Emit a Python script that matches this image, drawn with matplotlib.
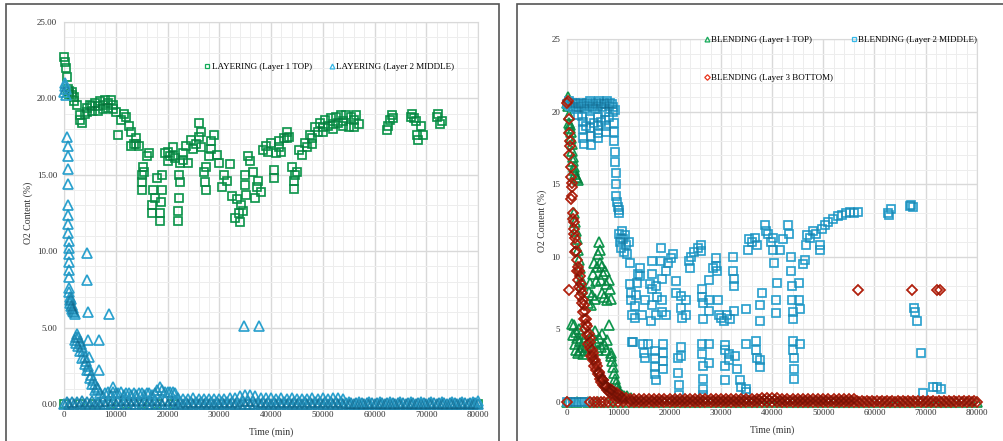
import matplotlib.pyplot as plt
from matplotlib.lines import Line2D
from matplotlib.patches import Rectangle

# ---------------- data (time in min, O2 in %) ----------------
# LAYERING, layer 1 TOP (squares)
layering_top = [
    (0, 22.7), (200, 22.4), (400, 22.0), (600, 21.4), (800, 20.6), (1000, 20.3), (1500, 20.2),
    (2000, 20.1), (2500, 19.6), (3000, 18.6), (3500, 18.4), (4000, 19.0), (4500, 19.4), (5000, 19.6),
    (5500, 19.2), (6000, 19.7), (6500, 19.5), (7000, 19.8), (7500, 19.6), (8000, 19.9), (8500, 19.7),
    (9000, 19.9), (9500, 19.6), (10000, 19.1), (10500, 17.6), (11000, 18.6), (11500, 19.0),
    (12000, 18.8), (12500, 18.2), (13000, 17.8), (13500, 17.0), (14000, 17.4), (14500, 16.9),
    (15000, 14.0), (15500, 15.2), (16000, 16.2), (16500, 16.4), (17000, 12.5), (17500, 13.5),
    (18000, 14.8), (18500, 12.0), (19000, 14.0), (19500, 16.4), (20000, 15.9), (20500, 16.2),
    (21000, 16.8), (21500, 16.1), (22000, 12.0), (22500, 14.5), (23000, 16.0), (23500, 16.9),
    (24000, 15.8), (24500, 17.3), (25000, 16.7), (25500, 17.0), (26000, 18.4), (26500, 16.8),
    (27000, 15.2), (27500, 14.0), (28000, 16.2), (28500, 17.2), (29000, 17.6), (29500, 16.3),
    (30000, 15.8), (30500, 14.2), (31000, 15.0), (31500, 14.6), (32000, 15.7), (32500, 13.6),
    (33000, 12.2), (33500, 13.4), (34000, 11.9), (34500, 12.6), (35000, 14.3), (35500, 16.2),
    (36000, 15.9), (36500, 15.2), (37000, 13.5), (37500, 14.6), (38000, 13.9), (38500, 16.6),
    (39000, 16.9), (39500, 16.5), (40000, 17.1), (40500, 14.8), (41000, 16.4), (41500, 17.2),
    (42000, 16.5), (42500, 17.4), (43000, 17.8), (43500, 17.5), (44000, 15.5), (44500, 14.1),
    (45000, 15.2), (45500, 16.6), (46000, 16.3), (46500, 17.1), (47000, 16.8), (47500, 17.6),
    (48000, 17.4), (48500, 18.1), (49000, 17.8), (49500, 18.4), (50000, 18.1), (50500, 18.6),
    (51000, 18.2), (51500, 18.7), (52000, 18.3), (52500, 18.8), (53000, 18.4), (53500, 18.9),
    (54000, 18.5), (54500, 18.9), (55000, 18.1), (55500, 18.8), (56000, 18.6), (56500, 18.9),
    (57000, 18.3),
    (15000, 14.5), (15000, 15.0), (15200, 15.5), (17000, 13.0), (17200, 14.0), (18500, 12.5),
    (18700, 13.2), (19000, 15.0), (22000, 12.6), (22200, 13.5), (22300, 15.0), (22500, 15.8),
    (27300, 14.5), (27500, 15.5), (33800, 12.5), (34200, 13.0), (35000, 15.0), (35200, 13.7),
    (37200, 14.2), (40500, 15.3), (44500, 14.6), (44700, 15.0), (1000, 20.5), (1500, 20.4),
    (2000, 19.8), (3000, 18.9), (4500, 19.1), (5500, 19.5), (6500, 19.2), (7500, 19.3),
    (8500, 19.4), (9500, 19.3), (13000, 16.9), (14000, 17.0), (20000, 16.5), (21000, 16.2),
    (23000, 16.4), (26000, 17.5), (26500, 17.8), (28500, 16.7), (41500, 16.8), (43000, 17.4),
    (48000, 17.0), (50000, 17.8), (52000, 18.0), (54000, 18.2), (56000, 18.1),
    (62500, 17.9), (62600, 18.2), (63000, 18.6), (63300, 18.9), (63500, 18.7),
    (67000, 18.8), (67300, 19.0), (67600, 18.7), (68000, 18.5), (68200, 17.6), (68400, 17.3),
    (69000, 18.2), (69400, 17.6), (72000, 18.8), (72300, 19.0), (72600, 18.3), (73000, 18.5),
    (0, 0.0), (3000, 0.0), (6000, 0.0), (9000, 0.0), (12000, 0.0), (15000, 0.0), (18000, 0.0),
    (21000, 0.0), (80000, 0.0),
]

# LAYERING, layer 2 MIDDLE (triangles)
layering_middle = [
    (0, 20.4), (100, 20.8), (200, 21.0), (300, 20.6), (400, 20.2),
    (650, 17.5), (700, 16.9), (720, 16.2), (750, 15.4), (780, 14.4), (800, 13.0), (820, 12.4),
    (840, 11.8), (860, 11.2), (880, 10.7), (900, 10.2), (920, 9.8), (940, 9.3), (960, 8.8),
    (980, 8.3), (1000, 7.6), (1050, 7.3), (1100, 7.0), (1150, 6.8), (1200, 6.6), (1300, 6.9),
    (1400, 6.4), (1500, 6.2), (1600, 6.5), (1700, 6.1), (1800, 6.3), (2000, 6.0), (2100, 5.9),
    (4500, 9.9), (4500, 8.1), (4600, 6.0), (4650, 4.2), (4800, 3.1), (6700, 4.2), (6700, 2.2),
    (8700, 5.9), (9500, 1.1), (34800, 5.1), (37600, 5.1),
    (2100, 4.2), (2300, 4.4), (2600, 4.6), (2800, 4.4), (3000, 4.1), (3200, 3.9), (3400, 3.7),
    (3700, 3.5), (4000, 3.1), (4300, 2.8), (4600, 2.5), (4900, 2.2), (5200, 1.9), (5600, 1.6),
    (6000, 1.3), (6300, 1.1), (6600, 1.0), (7000, 0.7), (7500, 0.5),
    (2400, 4.0), (2700, 3.8), (3000, 3.5), (3500, 3.0), (4000, 2.6), (4400, 2.2), (5000, 1.7),
    (5500, 1.3), (6000, 0.9),
    (8000, 0.7), (8500, 0.8), (9000, 0.6), (9500, 0.8), (10000, 0.7), (10500, 0.7), (11000, 0.8),
    (11500, 0.6), (12000, 0.7), (12500, 0.7), (13000, 0.6), (13500, 0.7), (14000, 0.6),
    (14500, 0.7), (15000, 0.7), (15500, 0.6), (16000, 0.7), (16500, 0.7), (17000, 0.6),
    (17500, 0.7), (18000, 0.9), (18500, 1.1), (19000, 0.9), (19500, 0.8), (20000, 0.8),
    (20500, 0.8), (21000, 0.8), (21500, 0.7),
    (22000, 0.4), (23000, 0.3), (24000, 0.3), (25000, 0.4), (26000, 0.3), (27000, 0.3),
    (28000, 0.3), (29000, 0.3), (30000, 0.3), (31000, 0.3), (32000, 0.4), (33000, 0.4),
    (34000, 0.5), (35000, 0.6), (36000, 0.6), (37000, 0.5), (38000, 0.4), (39000, 0.4),
    (40000, 0.4), (41000, 0.3), (42000, 0.4), (43000, 0.3), (44000, 0.4), (45000, 0.3),
    (46000, 0.3), (47000, 0.3), (48000, 0.4), (49000, 0.3), (50000, 0.4), (51000, 0.3),
    (52000, 0.4), (53000, 0.4), (54000, 0.3),
    (55000, 0.1), (57000, 0.1), (59000, 0.1), (61000, 0.1), (63000, 0.1), (65000, 0.1),
    (67000, 0.1), (69000, 0.1), (71000, 0.1), (73000, 0.1), (75000, 0.1), (77000, 0.1),
    (79000, 0.1), (80000, 0.2),
]
layering_middle_zero_t = [
    0, 1000, 2000, 3000, 4000, 5000, 6000, 7000, 8000, 9000, 10000, 11000, 12000, 13000, 14000,
    15000, 16000, 17000, 18000, 19000, 20000, 21000, 22000, 23000, 24000, 25000, 26000, 27000,
    28000, 29000, 30000, 31000, 32000, 33000, 34000, 35000, 36000, 37000, 38000, 39000, 40000,
    41000, 42000, 43000, 44000, 45000, 46000, 47000, 48000, 49000, 50000, 51000, 52000, 53000,
    54000, 55000, 56000, 57000, 58000, 59000, 60000, 61000, 62000, 63000, 64000, 65000, 66000,
    67000, 68000, 69000, 70000, 71000, 72000, 73000, 74000, 75000, 76000, 77000, 78000, 79000,
    80000,
]
layering_middle_low = [
    (500, 0.15), (1500, 0.15), (2500, 0.15), (3500, 0.2), (4500, 0.15), (5500, 0.2), (6500, 0.15),
    (7500, 0.2), (8500, 0.2), (9500, 0.25), (10500, 0.2), (11500, 0.25), (12500, 0.2),
    (13500, 0.25), (14500, 0.2), (15500, 0.25), (16500, 0.2), (17500, 0.25), (18500, 0.2),
    (19500, 0.25), (20500, 0.2), (21500, 0.25), (22500, 0.15), (23500, 0.15), (24500, 0.15),
    (25500, 0.15), (26500, 0.15), (27500, 0.15), (28500, 0.15), (29500, 0.15), (30500, 0.15),
    (31500, 0.15), (32500, 0.15), (33500, 0.15), (34500, 0.2), (35500, 0.2), (36500, 0.2),
    (37500, 0.15), (38500, 0.15), (39500, 0.15), (40500, 0.15), (41500, 0.15), (42500, 0.15),
    (43500, 0.15), (44500, 0.15), (45500, 0.15), (46500, 0.15), (47500, 0.15), (48500, 0.15),
    (49500, 0.15), (50500, 0.15), (51500, 0.15), (52500, 0.15), (53500, 0.15), (54500, 0.05),
    (55500, 0.05), (56500, 0.05), (57500, 0.05), (58500, 0.05), (59500, 0.05), (60500, 0.05),
    (61500, 0.05), (62500, 0.05), (63500, 0.05), (64500, 0.05), (65500, 0.05), (66500, 0.05),
    (67500, 0.05), (68500, 0.05), (69500, 0.05), (70500, 0.05), (71500, 0.05), (72500, 0.05),
    (73500, 0.05), (74500, 0.05), (75500, 0.05), (76500, 0.05), (77500, 0.05), (78500, 0.05),
    (79500, 0.05),
]

# BLENDING, layer 1 TOP (triangles)
blending_top = [
    (0, 20.6), (100, 21.0), (200, 20.4), (300, 19.8), (400, 19.2), (500, 18.9), (600, 19.1),
    (700, 18.6), (800, 18.2), (900, 17.8), (1000, 17.3), (1100, 16.9), (1200, 16.6), (1300, 16.2),
    (1400, 16.0), (1500, 15.7), (1700, 15.5), (1900, 15.4), (2100, 15.3),
    (1300, 13.0), (1500, 12.4), (1700, 11.8), (1900, 11.2), (2100, 10.5), (2300, 9.8),
    (2500, 9.2), (2700, 8.5), (2900, 7.8),
    (1000, 5.4), (1200, 4.6), (1400, 5.3), (1500, 4.0), (1700, 4.8), (1800, 3.6), (2000, 4.4),
    (2100, 3.4), (2300, 5.0), (2500, 4.2), (2600, 3.5), (2800, 4.7), (3000, 3.8), (3200, 3.3),
    (3400, 4.3), (3600, 3.6), (3800, 3.9),
    (4100, 6.8), (4300, 7.6), (4500, 8.2), (4700, 6.7), (4900, 7.4), (5100, 8.8), (5300, 9.6),
    (5500, 7.1), (5700, 8.3), (5900, 9.3), (6100, 10.2), (6300, 11.0), (6400, 10.5), (6500, 9.6),
    (6700, 8.4), (6800, 7.5), (6900, 9.4), (7100, 8.8), (7300, 7.2), (7500, 9.0), (7700, 8.1),
    (7900, 7.0), (8100, 8.4), (8300, 7.8), (8500, 7.1),
    (4200, 4.2), (4500, 3.7), (4800, 4.6), (5100, 3.9), (5400, 4.9), (5700, 4.1), (6000, 3.6),
    (6300, 4.4), (6600, 3.8), (6900, 4.7), (7200, 4.0), (7600, 3.6), (7900, 4.3), (8200, 5.3),
    (8500, 3.4),
    (8600, 3.2), (8800, 2.8), (9000, 2.4), (9200, 2.0), (9400, 1.6), (9600, 1.3), (9800, 1.0),
    (10000, 0.8), (10300, 0.6), (10700, 0.5), (11200, 0.4), (11800, 0.4), (12500, 0.3),
    (0, 0.0), (2000, 0.0), (4000, 0.0), (6000, 0.0), (8000, 0.0), (10000, 0.0), (12000, 0.0),
    (14000, 0.0), (16000, 0.0), (18000, 0.0), (20000, 0.0), (22000, 0.0), (24000, 0.0),
    (26000, 0.0), (28000, 0.0), (30000, 0.0), (32000, 0.0), (34000, 0.0), (36000, 0.0),
    (38000, 0.0), (40000, 0.0), (42000, 0.0), (44000, 0.0), (46000, 0.0), (48000, 0.0),
    (50000, 0.0), (52000, 0.0), (54000, 0.0), (56000, 0.0), (58000, 0.0), (60000, 0.0),
    (62000, 0.0), (64000, 0.0), (66000, 0.0), (68000, 0.0), (70000, 0.0), (72000, 0.0),
    (74000, 0.0), (76000, 0.0), (78000, 0.0), (80000, 0.0),
]

# BLENDING, layer 2 MIDDLE (squares)
blending_middle = [
    (0, 20.5), (300, 20.7), (600, 20.4), (900, 20.6), (1200, 20.3), (1500, 20.6), (1800, 20.2),
    (2100, 20.5), (2400, 20.3), (2700, 20.6), (3000, 20.4), (3300, 20.5), (3600, 20.2),
    (3900, 20.6), (4200, 20.4), (4500, 20.7), (4800, 20.3), (5100, 20.5), (5400, 20.2),
    (5700, 20.6), (6000, 20.4), (6300, 20.7), (6600, 20.5), (6900, 20.3), (7200, 20.6),
    (7500, 20.5), (7800, 20.7), (8100, 20.4), (8400, 20.6), (8700, 20.5), (9000, 20.3),
    (9300, 20.1),
    (3000, 19.7), (3100, 19.3), (3100, 18.8), (3200, 18.2), (3300, 17.8), (4500, 19.5),
    (4500, 18.9), (4600, 18.3), (4600, 17.7), (6000, 19.6), (6000, 19.0), (6100, 18.5),
    (6100, 18.2), (7500, 20.0), (7500, 19.4), (7600, 19.0), (7600, 18.6), (9000, 20.0),
    (9100, 19.2), (9100, 18.6), (9200, 18.0), (2200, 19.8), (3800, 19.0), (5200, 19.2),
    (6700, 19.3), (8200, 19.6),
    (9300, 17.2), (9400, 16.5), (9500, 15.8), (9500, 15.0), (9600, 14.2), (9700, 13.8),
    (9900, 13.4), (10100, 13.0), (10200, 13.2),
    (10100, 11.6), (10300, 11.0), (10500, 11.3), (10600, 10.6), (10800, 11.8), (11000, 11.2),
    (11200, 10.3), (11400, 11.5), (11600, 10.8), (11800, 10.2), (12000, 11.0), (12200, 9.6),
    (12300, 8.1), (12400, 7.5), (12500, 7.0), (12600, 6.0), (13200, 5.8), (13300, 6.6),
    (13400, 7.4), (13600, 8.2), (13800, 8.8), (14200, 9.2), (14300, 8.7), (14600, 6.0),
    (15200, 7.0), (16200, 8.1), (16500, 9.7), (16500, 8.8), (16600, 7.8), (16600, 6.7),
    (16300, 5.6), (17300, 6.0), (17300, 8.0), (17600, 7.2), (18400, 10.6), (18400, 9.7),
    (18500, 8.5), (18500, 7.0), (18600, 6.2), (19400, 6.0), (19400, 9.0), (19800, 9.6),
    (20200, 9.9), (20700, 10.2), (21300, 8.3), (21300, 7.5), (22300, 7.3), (22300, 6.5),
    (22400, 5.8), (23300, 7.0), (23300, 6.0), (23900, 9.7), (24200, 10.0), (24000, 9.2),
    (24800, 10.3), (25500, 10.6), (26200, 10.8), (26200, 10.4), (26400, 7.8), (26400, 7.2),
    (26500, 6.8), (26500, 5.7), (27800, 7.0), (27800, 6.3), (27800, 8.4), (28500, 9.2),
    (29100, 9.9), (29100, 9.4), (29200, 9.0), (29500, 7.0), (29600, 6.0), (30100, 5.8),
    (30700, 5.6), (31300, 6.0), (31900, 5.7), (32400, 10.0), (32400, 9.0), (32500, 8.5),
    (32500, 8.0), (32600, 6.3), (35000, 6.4), (35300, 10.5), (35500, 11.2), (36000, 11.0),
    (36600, 11.3), (37000, 10.8), (37600, 6.7), (37700, 5.6), (38000, 7.5), (38600, 12.2),
    (38800, 11.8), (39300, 11.6), (39800, 11.0), (40200, 11.3), (40200, 10.5), (40300, 9.6),
    (40800, 7.0), (40800, 6.1), (41000, 8.2), (41500, 10.5), (42200, 11.2), (43100, 12.2),
    (43300, 11.6), (43800, 10.0), (43800, 9.0), (43900, 8.0), (43900, 7.0), (44000, 6.2),
    (44000, 5.7), (45300, 8.2), (45300, 7.0), (45400, 6.4), (46000, 9.5), (46400, 9.8),
    (46700, 10.8), (46800, 11.5), (47400, 11.3), (48000, 11.8), (48600, 11.6), (49300, 10.8),
    (49300, 10.5), (49800, 11.9), (50300, 12.2), (51000, 12.4), (51900, 12.6), (52800, 12.8),
    (53600, 12.9), (54500, 13.0), (55300, 13.1), (56000, 13.0), (56800, 13.1),
    (62600, 13.0), (62800, 12.9), (63300, 13.3), (66900, 13.5), (67200, 13.6), (67500, 13.4),
    (67700, 6.5), (67900, 6.2), (68200, 5.6), (69100, 3.4), (69500, 0.6), (71400, 1.0),
    (72200, 1.0), (73000, 0.9),
    (12700, 4.1), (12800, 4.1), (14800, 4.0), (15000, 3.4), (15300, 3.0), (15800, 4.0),
    (17100, 3.5), (17100, 3.0), (17200, 2.4), (17200, 1.9), (17300, 1.5), (18700, 4.0),
    (18700, 3.4), (18800, 2.8), (18800, 2.3), (21700, 3.0), (21700, 2.0), (21800, 1.2),
    (21800, 0.5), (22300, 3.8), (22300, 3.2), (26400, 4.0), (26400, 3.3), (26500, 2.5),
    (26500, 1.6), (26600, 0.9), (26600, 0.5), (27800, 4.0), (27800, 2.7), (30800, 3.9),
    (30800, 3.6), (30900, 2.5), (30900, 1.5), (31700, 2.9), (31700, 3.3), (32700, 3.2),
    (33200, 2.3), (33700, 1.5), (34000, 1.0), (35000, 0.9), (35000, 0.7), (35000, 4.0),
    (36900, 4.2), (36900, 3.6), (37000, 3.0), (37700, 2.4), (37700, 2.9), (44100, 4.2),
    (44100, 3.6), (44200, 3.0), (44200, 2.3), (44300, 1.6), (45400, 4.0),
    (0, 0.0), (600, 0.0), (1200, 0.0), (1800, 0.0), (2400, 0.0), (3000, 0.0), (3600, 0.0),
    (4200, 0.0),
]

# BLENDING, layer 3 BOTTOM (diamonds)
blending_bottom = [
    (0, 20.6), (200, 20.7), (300, 7.7), (56700, 7.7), (67300, 7.7), (72100, 7.7), (72800, 7.7),
    (300, 19.5), (450, 18.5), (600, 17.6), (750, 16.2), (900, 15.1), (1050, 14.2), (1200, 13.0),
    (1400, 11.9), (1600, 11.3), (1800, 10.4), (2000, 9.8), (2200, 9.3), (2450, 8.7), (2700, 8.1),
    (2950, 7.5), (3200, 7.0), (3450, 6.3), (3700, 5.7), (3950, 5.2), (4200, 4.7), (4500, 4.1),
    (4800, 3.6), (5100, 3.2), (5450, 2.9), (5800, 2.5), (6150, 2.1), (6500, 1.8), (6800, 1.6),
    (7100, 1.5), (7500, 1.2), (7900, 1.0), (8300, 0.9), (8700, 0.8), (9200, 0.7), (9700, 0.6),
    (10200, 0.45), (10800, 0.35), (11500, 0.25), (12300, 0.2),
    (600, 18.0), (1000, 14.8), (1300, 12.4), (1700, 10.9), (2300, 9.0), (2800, 7.8),
    (3300, 6.7), (3800, 5.4), (4400, 4.4), (5000, 3.4), (5600, 2.7), (6300, 2.0), (7000, 1.5),
    (7700, 1.1), (8500, 0.85),
    (450, 17.0), (700, 15.5), (850, 14.0), (1100, 12.6), (1350, 11.6), (1550, 10.3),
    (1900, 9.0), (2100, 8.4), (2400, 7.9), (2600, 7.3), (2900, 6.8), (3100, 6.2), (3350, 5.7),
    (3600, 5.0), (3900, 4.6), (4100, 4.0), (4400, 3.7), (4700, 3.2), (5000, 2.9), (5300, 2.5),
    (5700, 2.2), (6000, 1.9), (6400, 1.6), (6700, 1.4), (7000, 1.2), (7400, 1.0), (7800, 0.85),
    (8200, 0.7), (8600, 0.6), (9000, 0.5), (9500, 0.4), (10000, 0.3), (10500, 0.25),
    (11000, 0.2),
    (13000, 0.2), (14000, 0.2), (15000, 0.2), (16000, 0.2), (17000, 0.2), (18000, 0.2),
    (19000, 0.2), (20000, 0.2), (21000, 0.2), (22000, 0.2), (23000, 0.2), (24000, 0.2),
    (25000, 0.2), (26000, 0.2), (27000, 0.2), (28000, 0.2), (29000, 0.2), (30000, 0.2),
    (31000, 0.2), (32000, 0.2), (33000, 0.2), (34000, 0.2), (35000, 0.2), (36000, 0.2),
    (37000, 0.2), (38000, 0.25), (39000, 0.25), (40000, 0.25), (41000, 0.25), (42000, 0.2),
    (43000, 0.2), (44000, 0.2), (45000, 0.2), (46000, 0.2), (47000, 0.2), (48000, 0.2),
    (49000, 0.2), (50000, 0.2), (51000, 0.2), (52000, 0.2), (53000, 0.2), (54000, 0.2),
    (55000, 0.2), (56000, 0.2),
    (12500, 0.1), (13500, 0.1), (14500, 0.1), (15500, 0.1), (16500, 0.1), (17500, 0.1),
    (18500, 0.1), (19500, 0.1), (20500, 0.1), (21500, 0.1), (22500, 0.1), (23500, 0.1),
    (24500, 0.1), (25500, 0.1), (26500, 0.1), (27500, 0.1), (28500, 0.1), (29500, 0.1),
    (30500, 0.1), (31500, 0.1), (32500, 0.1), (33500, 0.1), (34500, 0.1), (35500, 0.1),
    (36500, 0.1), (37500, 0.15), (38500, 0.15), (39500, 0.15), (40500, 0.15), (41500, 0.1),
    (42500, 0.1), (43500, 0.1), (44500, 0.1), (45500, 0.1), (46500, 0.1), (47500, 0.1),
    (48500, 0.1), (49500, 0.1), (50500, 0.1), (51500, 0.1), (52500, 0.1), (53500, 0.1),
    (54500, 0.1), (55500, 0.1), (56500, 0.05), (57500, 0.05), (58500, 0.05), (59500, 0.05),
    (60500, 0.05), (61500, 0.05), (62500, 0.05), (63500, 0.05), (64500, 0.05), (65500, 0.05),
    (66500, 0.05), (67500, 0.05), (68500, 0.05), (69500, 0.05), (70500, 0.05), (71500, 0.05),
    (72500, 0.05), (73500, 0.05), (74500, 0.05), (75500, 0.05), (76500, 0.05), (77500, 0.05),
    (78500, 0.05), (79500, 0.05),
    (0, 0.0), (4500, 0.0), (5200, 0.0), (5900, 0.0), (6600, 0.0), (7300, 0.0), (8000, 0.0),
    (9000, 0.0), (10000, 0.0), (11000, 0.0), (12000, 0.0), (13000, 0.0), (14000, 0.0),
    (15000, 0.0), (16000, 0.0), (17000, 0.0), (18000, 0.0), (19000, 0.0), (20000, 0.0),
    (21000, 0.0), (22000, 0.0), (23000, 0.0), (24000, 0.0), (25000, 0.0), (26000, 0.0),
    (27000, 0.0), (28000, 0.0), (29000, 0.0), (30000, 0.0), (31000, 0.0), (32000, 0.0),
    (33000, 0.0), (34000, 0.0), (35000, 0.0), (36000, 0.0), (37000, 0.0), (38000, 0.0),
    (39000, 0.0), (40000, 0.0), (41000, 0.0), (42000, 0.0), (43000, 0.0), (44000, 0.0),
    (45000, 0.0), (46000, 0.0), (47000, 0.0), (48000, 0.0), (49000, 0.0), (50000, 0.0),
    (51000, 0.0), (52000, 0.0), (53000, 0.0), (54000, 0.0), (55000, 0.0), (56000, 0.0),
    (57000, 0.0), (58000, 0.0), (59000, 0.0), (60000, 0.0), (61000, 0.0), (62000, 0.0),
    (63000, 0.0), (64000, 0.0), (65000, 0.0), (66000, 0.0), (67000, 0.0), (68000, 0.0),
    (69000, 0.0), (70000, 0.0), (71000, 0.0), (72000, 0.0), (73000, 0.0), (74000, 0.0),
    (75000, 0.0), (76000, 0.0), (77000, 0.0), (78000, 0.0), (79000, 0.0), (80000, 0.0),
]

left_labels = ['LAYERING (Layer 1 TOP)', 'LAYERING (Layer 2 MIDDLE)']
right_labels = ['BLENDING (Layer 1 TOP)', 'BLENDING (Layer 2 MIDDLE)', 'BLENDING (Layer 3 BOTTOM)']

GREEN, GREEN_DK = '#13aa58', '#06502a'
BLUE, BLUE_DK = '#35b8e8', '#0a5070'
RED, RED_DK = '#e8341c', '#6a1004'

plt.rcParams['font.family'] = ['Liberation Serif', 'DejaVu Serif']


def draw(ax, pts, marker, ms, light, dark, z, dark_alpha=0.22):
    t = [p[0] for p in pts]
    v = [p[1] for p in pts]
    ax.plot(t, v, ls='none', marker=marker, ms=ms, mfc='none', mec=light, mew=1.2,
            clip_on=False, zorder=z)
    # darker pass so that piled-up markers turn dark, like the original
    ax.plot(t, v, ls='none', marker=marker, ms=ms, mfc='none', mec=dark, mew=1.2,
            alpha=dark_alpha, clip_on=False, zorder=z)


def style(ax, fmt):
    ax.set_xlim(0, 80000)
    ax.set_ylim(0, 25)
    ax.set_xticks(range(0, 80001, 10000))
    ax.set_xticks(range(0, 80001, 2000), minor=True)
    ax.set_yticks(range(0, 26, 5))
    ax.set_yticks(range(0, 26, 1), minor=True)
    ax.set_yticklabels([fmt.format(y) for y in range(0, 26, 5)])
    ax.grid(which='major', color='#d9d9d9', lw=1.0)
    ax.grid(which='minor', color='#ededed', lw=0.7)
    ax.set_axisbelow(True)
    ax.tick_params(which='both', length=0, labelsize=6.5, colors='#333333', pad=5)
    for s in ax.spines.values():
        s.set_color('#d9d9d9')
    ax.set_xlabel('Time (min)', fontsize=7, color='#333333', labelpad=6)
    ax.set_ylabel('O2 Content (%)', fontsize=7, color='#333333', labelpad=3)


fig = plt.figure(figsize=(10.04, 4.41), dpi=100)

# panel frames
fig.add_artist(Rectangle((6 / 1004, -0.02), 493 / 1004, 437 / 441 + 0.02, transform=fig.transFigure,
                         fill=False, ec='#555555', lw=1.2))
fig.add_artist(Rectangle((517 / 1004, -0.02), 0.5, 437 / 441 + 0.02, transform=fig.transFigure,
                         fill=False, ec='#555555', lw=1.2))

# ---------------- left: layering ----------------
ax1 = fig.add_axes([64 / 1004, 37 / 441, 414 / 1004, 382 / 441])
draw(ax1, layering_top, 's', 6, GREEN, GREEN_DK, 3)
draw(ax1, layering_middle, '^', 7.5, BLUE, BLUE_DK, 4)
draw(ax1, [(t, 0.0) for t in layering_middle_zero_t] + layering_middle_low, '^', 7.5,
     BLUE, BLUE_DK, 4, 0.35)
style(ax1, '{:.2f}')
h1 = [Line2D([], [], ls='none', marker='s', ms=3, mfc='none', mec=GREEN, mew=0.9),
      Line2D([], [], ls='none', marker='^', ms=3.5, mfc='none', mec=BLUE, mew=0.9)]
ax1.legend(h1, left_labels, loc='center left', bbox_to_anchor=(0.34, 0.882), ncol=2,
           frameon=False, borderpad=0, borderaxespad=0, handlelength=0.6, handletextpad=0.15,
           columnspacing=1.9, fontsize=6.5)

# ---------------- right: blending ----------------
ax2 = fig.add_axes([567 / 1004, 39 / 441, 410 / 1004, 363 / 441])
draw(ax2, blending_top, '^', 7.5, GREEN, GREEN_DK, 3)
draw(ax2, blending_middle, 's', 6, BLUE, BLUE_DK, 4)
draw(ax2, blending_bottom, 'D', 5.5, RED, RED_DK, 5, 0.45)
style(ax2, '{:d}')
h2 = [Line2D([], [], ls='none', marker='^', ms=3.5, mfc='none', mec=GREEN, mew=0.9),
      Line2D([], [], ls='none', marker='D', ms=2.8, mfc='none', mec=RED, mew=0.9),
      Line2D([], [], ls='none', marker='s', ms=3, mfc='none', mec=BLUE, mew=0.9)]
ax2.legend(h2, [right_labels[0], right_labels[2], right_labels[1]], loc='upper left',
           bbox_to_anchor=(0.335, 1.01), ncol=2, frameon=False, borderpad=0, borderaxespad=0,
           handlelength=0.6, handletextpad=0.15, columnspacing=2.0, labelspacing=3.3,
           fontsize=6.5)

fig.savefig('out.png', dpi=100, facecolor='white')
